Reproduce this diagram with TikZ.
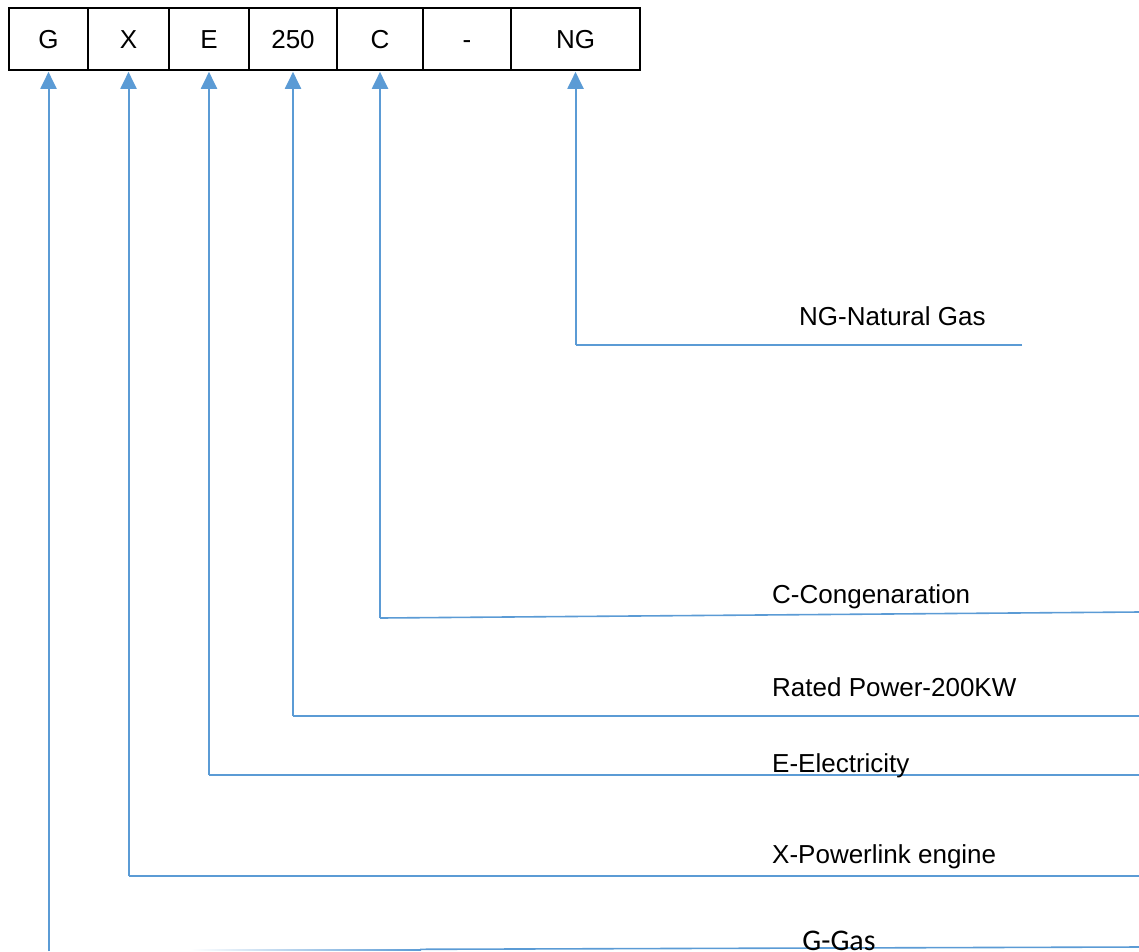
\documentclass[tikz,border=0pt]{standalone}
\usepackage{fontspec}
\setmainfont{Liberation Sans}
\newfontfamily\calib{Carlito}
\usetikzlibrary{arrows.meta}
\definecolor{lblue}{HTML}{5B9BD5}
\begin{document}
\begin{tikzpicture}[x=1pt,y=-1pt,
  cell/.style={draw=black,line width=1.6pt,minimum height=62pt,inner sep=0pt,text height=18.6pt,text depth=0pt,font=\fontsize{26}{30}\selectfont},
  conn/.style={draw=lblue,line width=1.6pt},
  arr/.style={draw=lblue,line width=2pt,-{Triangle[length=17pt,width=16pt]},shorten >=1pt},
  lbl/.style={anchor=base west,inner sep=0pt,font=\fontsize{26}{30}\selectfont}]
\useasboundingbox (0,0) rectangle (1139,951);
% table cells
\node[cell,minimum width=79pt] (cG) at (48.5,39) {G};
\node[cell,minimum width=81pt] (cX) at (128.5,39) {X};
\node[cell,minimum width=80pt] (cE) at (209,39) {E};
\node[cell,minimum width=88pt] (c250) at (293,39) {250};
\node[cell,minimum width=86pt] (cC) at (380,39) {C};
\node[cell,minimum width=88pt] (cDash) at (467,39) {-};
\node[cell,minimum width=129pt] (cNG) at (575.5,39) {NG};
% corner and end coordinates
\coordinate (ngCorner) at (575.5,345);
\coordinate (ngEnd) at (1022,345);
\coordinate (cCorner) at (380,618);
\coordinate (cEnd) at (1139,612);
\coordinate (pCorner) at (293,716);
\coordinate (pEnd) at (1139,716);
\coordinate (eCorner) at (209,775);
\coordinate (eEnd) at (1139,775);
\coordinate (xCorner) at (128.5,876);
\coordinate (xEnd) at (1139,876);
\coordinate (gBottom) at (48.5,951);
\coordinate (gStart) at (420,949.3);
\coordinate (gEnd) at (1139,947);
% horizontal lines
\draw[conn] (ngEnd) -- (ngCorner);
\draw[conn] (cEnd) -- (cCorner);
\draw[conn] (pEnd) -- (pCorner);
\draw[conn] (eEnd) -- (eCorner);
\draw[conn] (xEnd) -- (xCorner);
\draw[conn] (gStart) -- (gEnd);
\shade[left color=white,right color=lblue] (190,949.2) rectangle (421,950.8);
% vertical arrows
\draw[arr] (ngCorner) -- (cNG.south);
\draw[arr] (cCorner) -- (cC.south);
\draw[arr] (pCorner) -- (c250.south);
\draw[arr] (eCorner) -- (cE.south);
\draw[arr] (xCorner) -- (cX.south);
\draw[arr] (gBottom) -- (cG.south);
% labels
\node[lbl] (lNG) at (799,325) {NG-Natural Gas};
\node[lbl] (lC) at (772,603) {C-Congenaration};
\node[lbl] (lP) at (772,696) {Rated Power-200KW};
\node[lbl] (lE) at (772,772) {E-Electricity};
\node[lbl] (lX) at (772,863) {X-Powerlink engine};
\node[anchor=base,inner sep=0pt,font=\calib\fontsize{30}{34}\selectfont] (lG) at (839,950) {G-Gas};
\end{tikzpicture}
\end{document}
